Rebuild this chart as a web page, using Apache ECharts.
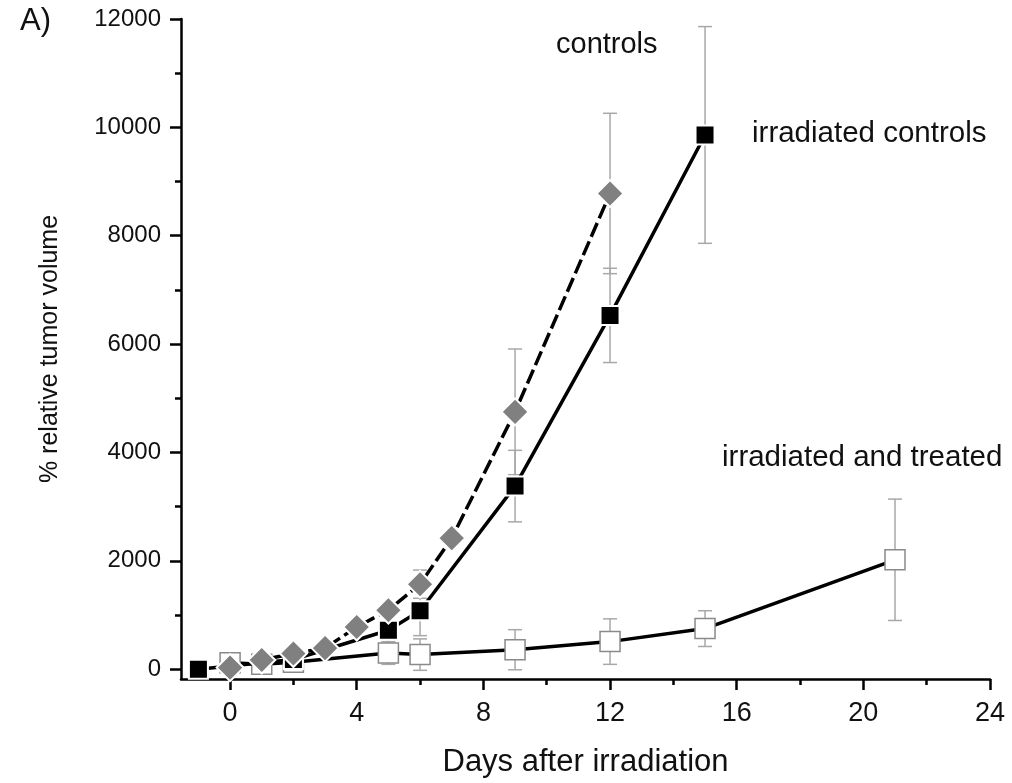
<!DOCTYPE html>
<html>
<head>
<meta charset="utf-8">
<script src="https://cdn.jsdelivr.net/npm/echarts@6/dist/echarts.min.js"></script>
<style>
  html, body { margin: 0; padding: 0; background: #fff; }
  #main { width: 1012px; height: 783px; }
</style>
</head>
<body>
<div id="main"></div>
<script>
// controls (grey diamonds, dashed line)
const ctrlDays = [0, 1, 2, 3, 4, 5, 6, 7, 9, 12];
const ctrlVals = [30, 170, 290, 390, 780, 1090, 1570, 2420, 4750, 8780];
const ctrlErr = [0, 0, 0, 0, 0, 0, 260, 0, 1160, 1480];

// irradiated controls (black squares)
const irrDays = [-1, 2, 5, 6, 9, 12, 15];
const irrVals = [0, 180, 720, 1080, 3380, 6530, 9860];
const irrErr = [0, 0, 240, 460, 660, 870, 2000];

// irradiated and treated (open squares)
const trtDays = [0, 1, 2, 5, 6, 9, 12, 15, 21];
const trtVals = [120, 90, 130, 300, 270, 360, 510, 750, 2020];
const trtErr = [0, 0, 0, 210, 290, 370, 420, 330, 1120];

const xMajor = [0, 4, 8, 12, 16, 20, 24];
const xMinor = [2, 6, 10, 14, 18, 22];
const yMajor = [0, 2000, 4000, 6000, 8000, 10000, 12000];
const yMinor = [1000, 3000, 5000, 7000, 9000, 11000];

const font = "'Liberation Sans', Arial, sans-serif";

function pairs(days, vals) {
	return days.map((d, i) => [d, vals[i]]);
}
function errData(days, vals, errs) {
	let out = [];
	days.forEach((d, i) => {
		if (errs[i] > 0) out.push([d, vals[i] - errs[i], vals[i] + errs[i]]);
	});
	return out;
}

function errorBars(data, cap) {
	return {
		type: 'custom',
		xAxisIndex: 0,
		yAxisIndex: 0,
		z: 1,
		silent: true,
		data: data,
		renderItem: function(params, api) {
			let x = api.value(0);
			let lo = api.coord([x, api.value(1)]);
			let hi = api.coord([x, api.value(2)]);
			let st = { stroke: '#a8a8a8', lineWidth: 1.5 };
			return {
				type: 'group',
				children: [
					{ type: 'line', shape: { x1: lo[0], y1: lo[1], x2: hi[0], y2: hi[1] }, style: st },
					{ type: 'line', shape: { x1: hi[0] - cap, y1: hi[1], x2: hi[0] + cap, y2: hi[1] }, style: st },
					{ type: 'line', shape: { x1: lo[0] - cap, y1: lo[1], x2: lo[0] + cap, y2: lo[1] }, style: st }
				]
			};
		}
	};
}

let myChart = echarts.init(document.getElementById('main'));

let plain = function(v) { return String(v); };

let option = {
	backgroundColor: '#fff',
	animation: false,
	grid: { left: 181, right: 22, top: 19, bottom: 102 },
	xAxis: [{
		type: 'value',
		min: -1.55,
		max: 24,
		splitLine: { show: false },
		axisLine: { onZero: false, lineStyle: { color: '#000', width: 2.5 } },
		axisTick: { customValues: xMajor, length: 11, lineStyle: { color: '#000', width: 2.5 } },
		axisLabel: { customValues: xMajor, margin: 21, formatter: plain, color: '#111', fontSize: 27, fontFamily: font },
		name: 'Days after irradiation',
		nameLocation: 'middle',
		nameGap: 68,
		nameTextStyle: { color: '#111', fontSize: 31, fontFamily: font }
	}, {
		type: 'value',
		min: -1.55,
		max: 24,
		position: 'bottom',
		offset: 0,
		splitLine: { show: false },
		axisLine: { show: false, onZero: false },
		axisTick: { customValues: xMinor, length: 6, lineStyle: { color: '#000', width: 2.5 } },
		axisLabel: { show: false }
	}],
	yAxis: [{
		type: 'value',
		min: -180,
		max: 12000,
		splitLine: { show: false },
		axisLine: { onZero: false, lineStyle: { color: '#000', width: 2.5 } },
		axisTick: { customValues: yMajor, length: 11, lineStyle: { color: '#000', width: 2.5 } },
		axisLabel: { customValues: yMajor, margin: 20, formatter: plain, color: '#111', fontSize: 24, fontFamily: font },
		name: '% relative tumor volume',
		nameLocation: 'middle',
		nameGap: 118,
		nameTextStyle: { color: '#111', fontSize: 25, fontFamily: font }
	}, {
		type: 'value',
		min: -180,
		max: 12000,
		position: 'left',
		offset: 0,
		splitLine: { show: false },
		axisLine: { show: false, onZero: false },
		axisTick: { customValues: yMinor, length: 6, lineStyle: { color: '#000', width: 2.5 } },
		axisLabel: { show: false }
	}],
	graphic: [
		{ type: 'text', left: 20, top: 6, style: { text: 'A)', fill: '#111', font: '31px ' + font } },
		{ type: 'text', left: 556, top: 30, style: { text: 'controls', fill: '#111', font: '29px ' + font } },
		{ type: 'text', left: 752, top: 119, style: { text: 'irradiated controls', fill: '#111', font: '29.5px ' + font } },
		{ type: 'text', left: 722, top: 443, style: { text: 'irradiated and treated', fill: '#111', font: '29.5px ' + font } }
	],
	series: [
		errorBars(errData(trtDays, trtVals, trtErr), 7),
		errorBars(errData(irrDays, irrVals, irrErr), 7),
		errorBars(errData(ctrlDays, ctrlVals, ctrlErr), 7),
		{
			name: 'irradiated and treated',
			type: 'line',
			z: 2,
			data: pairs(trtDays, trtVals),
			symbol: 'rect',
			symbolSize: 20,
			showAllSymbol: true,
			lineStyle: { color: '#000', width: 3.5 },
			itemStyle: { color: '#fff', borderColor: '#8a8a8a', borderWidth: 1.5 }
		},
		{
			name: 'irradiated controls',
			type: 'line',
			z: 3,
			data: pairs(irrDays, irrVals),
			symbol: 'rect',
			symbolSize: 19,
			showAllSymbol: true,
			lineStyle: { color: '#000', width: 3.5 },
			itemStyle: { color: '#000', borderColor: '#fff', borderWidth: 2 }
		},
		{
			name: 'controls',
			type: 'line',
			z: 4,
			data: pairs(ctrlDays, ctrlVals),
			symbol: 'diamond',
			symbolSize: [27, 27],
			showAllSymbol: true,
			lineStyle: { color: '#000', width: 3.5, type: [15, 5] },
			itemStyle: { color: '#808080', borderColor: '#fff', borderWidth: 2 }
		}
	]
};

myChart.setOption(option);
</script>
</body>
</html>
